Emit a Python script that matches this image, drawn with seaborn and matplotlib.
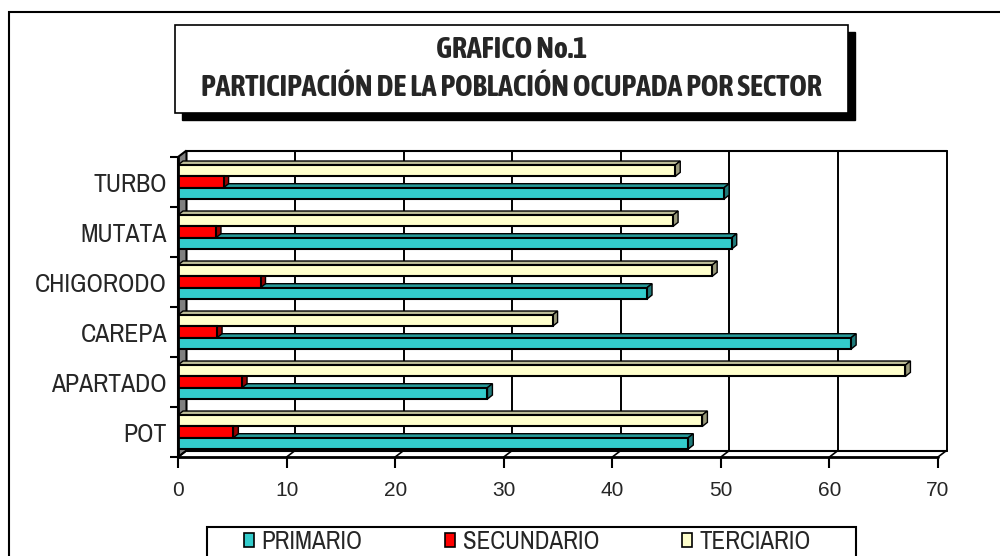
import matplotlib
matplotlib.use("Agg")
import matplotlib.pyplot as plt
import seaborn as sns
import numpy as np
import pandas as pd
from matplotlib.patches import Polygon, Rectangle, Patch

# datos (porcentaje de poblacion ocupada)
municipios = ["TURBO", "MUTATA", "CHIGORODO", "CAREPA", "APARTADO", "POT"]
primario = [50.3, 51.0, 43.2, 62.0, 28.5, 47.0]
secundario = [4.2, 3.5, 7.6, 3.6, 5.9, 5.1]
terciario = [45.8, 45.6, 49.2, 34.5, 67.0, 48.3]
sectores = ["PRIMARIO", "SECUNDARIO", "TERCIARIO"]
xticks = [0, 10, 20, 30, 40, 50, 60, 70]

colores = {"PRIMARIO": "#33CCCC", "SECUNDARIO": "#FF0000", "TERCIARIO": "#FFFFCC"}

df = pd.DataFrame({"municipio": municipios * 3,
                   "sector": ["PRIMARIO"] * 6 + ["SECUNDARIO"] * 6 + ["TERCIARIO"] * 6,
                   "valor": primario + secundario + terciario})

sns.set_style("white")
narrow = ["Archivo Narrow", "Liberation Sans", "DejaVu Sans"]
narrow_bold = ["Asap Condensed", "Liberation Sans", "DejaVu Sans"]
plt.rcParams["font.family"] = ["Liberation Sans", "DejaVu Sans"]

fig = plt.figure(figsize=(10, 5.56), dpi=100)
ax = fig.add_axes([0.178, 0.178, 0.76, 0.5396])

sns.barplot(data=df, x="valor", y="municipio", hue="sector", order=municipios,
            hue_order=["TERCIARIO", "SECUNDARIO", "PRIMARIO"], palette=colores,
            orient="h", width=0.68, saturation=1, edgecolor="black", linewidth=1.5,
            legend=False, ax=ax)
ax.set_xlim(0, 70)
ax.set_ylim(5.5, -0.5)
ax.set_xlabel("")
ax.set_ylabel("")

# efecto 3d: desplazamientos en unidades de datos
ux = 70 / 760.0
Dx, Dy = 8.5 * ux, 0.13
bx, by = 5 * ux, 0.08

# paredes y piso
ax.add_patch(Polygon([(0, 5.5), (0, -0.5), (Dx, -0.5 - Dy), (Dx, 5.5 - Dy)],
                     closed=True, facecolor="#808080", edgecolor="black", lw=1.5,
                     zorder=0.5, clip_on=False))
for x in xticks[1:]:
    ax.plot([x + Dx, x + Dx], [5.5 - Dy, -0.5 - Dy], color="black", lw=1.4, zorder=1, clip_on=False)
for x in xticks:
    ax.plot([x, x + Dx], [5.5, 5.5 - Dy], color="black", lw=1.2, zorder=1, clip_on=False)
ax.plot([Dx, 70 + Dx], [-0.5 - Dy, -0.5 - Dy], color="black", lw=1.5, zorder=1, clip_on=False)
ax.plot([Dx, 70 + Dx], [5.5 - Dy, 5.5 - Dy], color="black", lw=1.5, zorder=1, clip_on=False)
ax.plot([0, 70], [5.5, 5.5], color="black", lw=2, zorder=4, clip_on=False)
ax.plot([0, 0], [5.5, -0.5], color="black", lw=2, zorder=4, clip_on=False)

# caras laterales y superiores de las barras
for p in list(ax.patches):
    if not isinstance(p, Rectangle):
        continue
    p.set_zorder(3)
    x0, y0, w, h = p.get_x(), p.get_y(), p.get_width(), p.get_height()
    fc = np.array(p.get_facecolor()[:3])
    side = Polygon([(x0 + w, y0 + h), (x0 + w, y0), (x0 + w + bx, y0 - by), (x0 + w + bx, y0 + h - by)],
                   closed=True, facecolor=fc * 0.6, edgecolor="black", lw=1, zorder=2.6)
    top = Polygon([(x0, y0), (x0 + w, y0), (x0 + w + bx, y0 - by), (x0 + bx, y0 - by)],
                  closed=True, facecolor=fc * 0.75, edgecolor="black", lw=1, zorder=2.5)
    ax.add_patch(side)
    ax.add_patch(top)

for s in ax.spines.values():
    s.set_visible(False)

ax.set_xticks(xticks)
ax.set_xticklabels([str(x) for x in xticks], fontsize=15)
ax.tick_params(axis="x", direction="out", length=8, width=1.5, color="black", pad=9, bottom=True)
ax.set_yticks(range(len(municipios)))
ax.set_yticklabels(municipios, fontsize=18.5, family=narrow)
ax.set_yticks(np.arange(-0.5, 6.0, 1.0), minor=True)
ax.tick_params(axis="y", which="major", length=0, pad=8)
ax.tick_params(axis="y", which="minor", direction="out", length=6, width=1.5, color="black", left=True)

# marco exterior
fig.patches.append(Rectangle((0.009, -0.1), 1.2, 1.1 - 12 / 556, transform=fig.transFigure,
                             fill=False, edgecolor="black", lw=1.5, zorder=0))

# caja del titulo con sombra
fig.patches.append(Rectangle((182 / 1000, 1 - 120 / 556), 673 / 1000, 88 / 556, transform=fig.transFigure,
                             facecolor="black", edgecolor="black", zorder=1))
fig.patches.append(Rectangle((175 / 1000, 1 - 113 / 556), 673 / 1000, 88 / 556, transform=fig.transFigure,
                             facecolor="white", edgecolor="black", lw=1.2, zorder=2))
fig.text(0.5115, 1 - 49 / 556, "GRAFICO No.1", ha="center", va="center", fontsize=21.5,
         fontweight="bold", family=narrow_bold, zorder=3)
fig.text(0.5115, 1 - 88 / 556, "PARTICIPACIÓN DE LA POBLACIÓN OCUPADA POR SECTOR", ha="center",
         va="center", fontsize=21.5, fontweight="bold", family=narrow_bold, zorder=3)

# leyenda: caja propia y entradas sin marco
fig.patches.append(Rectangle((207 / 1000, -0.05), 649 / 1000, 0.05 + 29 / 556, transform=fig.transFigure,
                             facecolor="white", edgecolor="black", lw=1.5, zorder=1))
handles = [Patch(facecolor=colores[s], edgecolor="black", lw=1.2) for s in sectores]
leg = fig.legend(handles, sectores, loc="upper left", bbox_to_anchor=(244 / 1000, 1 - 530 / 556),
                 ncol=3, frameon=False, handlelength=0.4, handleheight=0.5, handletextpad=0.3,
                 columnspacing=3.3, borderpad=0, borderaxespad=0,
                 prop={"family": narrow, "size": 18})
leg.set_zorder(2)

fig.savefig("out.png", dpi=100)
